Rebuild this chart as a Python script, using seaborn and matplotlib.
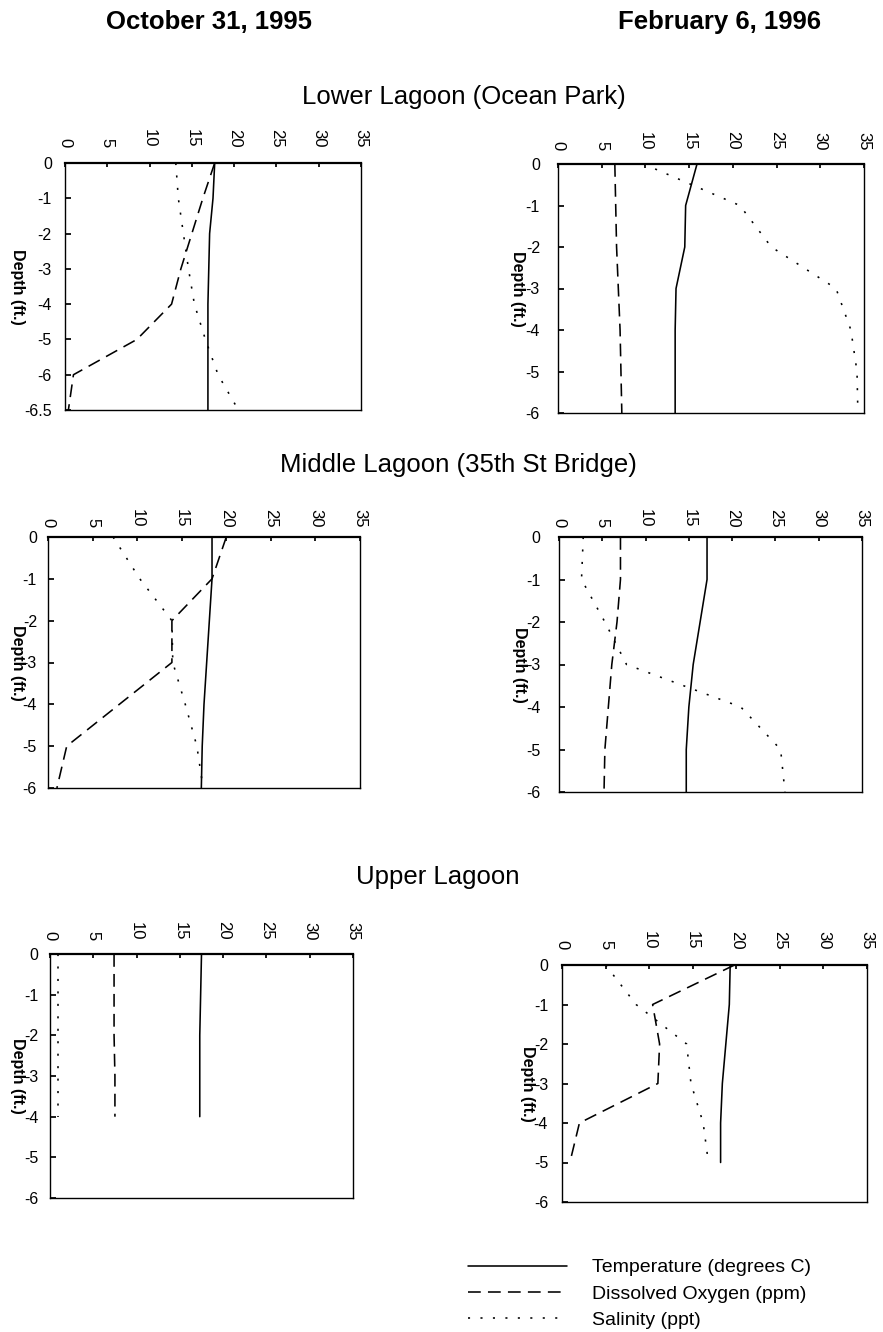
import numpy as np
import pandas as pd
import seaborn as sns
import matplotlib.pyplot as plt

# depth profiles, Oct 31 1995 vs Feb 6 1996, three lagoon stations
series = ["Temperature (degrees C)", "Dissolved Oxygen (ppm)", "Salinity (ppt)"]
xticks = [0, 5, 10, 15, 20, 25, 30, 35]

# Lower Lagoon (Ocean Park)
lower_oct_depth = ["0", "-1", "-2", "-3", "-4", "-5", "-6", "-6.5"]
lower_oct_temp = [17.7, 17.5, 17.1, 17.0, 16.9, 16.9, 16.9, 16.9]
lower_oct_do = [17.7, 16.3, 15.0, 13.7, 12.6, 8.5, 1.0, 0.4]
lower_oct_sal = [13.1, 13.4, 14.0, 14.6, 15.3, 16.6, 18.1, 20.5]

lower_feb_depth = ["0", "-1", "-2", "-3", "-4", "-5", "-6"]
lower_feb_temp = [15.9, 14.6, 14.5, 13.5, 13.4, 13.4, 13.4]
lower_feb_do = [6.5, 6.6, 6.7, 6.9, 7.1, 7.2, 7.3]
lower_feb_sal = [9.8, 20.8, 24.4, 31.8, 33.5, 34.2, 34.3]

# Middle Lagoon (35th St Bridge)
middle_oct_depth = ["0", "-1", "-2", "-3", "-4", "-5", "-6"]
middle_oct_temp = [18.4, 18.4, 18.1, 17.8, 17.5, 17.3, 17.2]
middle_oct_do = [20.0, 18.4, 13.9, 13.9, 8.0, 2.1, 1.0]
middle_oct_sal = [7.3, 10.3, 13.9, 14.0, 15.4, 16.7, 17.4]

middle_feb_depth = ["0", "-1", "-2", "-3", "-4", "-5", "-6"]
middle_feb_temp = [17.1, 17.1, 16.3, 15.5, 15.0, 14.7, 14.7]
middle_feb_do = [7.1, 7.1, 6.7, 6.1, 5.7, 5.3, 5.2]
middle_feb_sal = [2.8, 2.6, 5.3, 7.8, 21.0, 25.6, 26.1]

# Upper Lagoon (no readings below -4 / -5 ft)
upper_oct_depth = ["0", "-1", "-2", "-3", "-4", "-5", "-6"]
upper_oct_temp = [17.5, 17.4, 17.3, 17.3, 17.3]
upper_oct_do = [7.4, 7.4, 7.4, 7.5, 7.5]
upper_oct_sal = [0.9, 0.9, 0.9, 0.9, 0.9]

upper_feb_depth = ["0", "-1", "-2", "-3", "-4", "-5", "-6"]
upper_feb_temp = [19.3, 19.2, 18.8, 18.4, 18.2, 18.2]
upper_feb_do = [19.8, 10.4, 11.2, 11.0, 2.0, 0.9]
upper_feb_sal = [5.0, 8.5, 14.3, 14.8, 16.2, 16.8]

sns.set_theme(style="white")
plt.rcParams['font.family'] = ['Liberation Sans', 'DejaVu Sans']
for key in ["text.color", "axes.labelcolor", "xtick.color", "ytick.color"]:
    plt.rcParams[key] = "black"

W, H = 883, 1332
fig = plt.figure(figsize=(W / 100, H / 100), dpi=100)

dashes = {series[0]: "", series[1]: (8, 4.5), series[2]: (1.3, 6.5)}

# (panel data, pixel box l/t/r/b, ylabel x in px, ytick pad, xtick pad)
panels = [
    (lower_oct_depth, lower_oct_temp, lower_oct_do, lower_oct_sal, (65, 163, 361, 410), 17, 9.5, 11),
    (lower_feb_depth, lower_feb_temp, lower_feb_do, lower_feb_sal, (558, 164, 864, 413), 518, 13, 10),
    (middle_oct_depth, middle_oct_temp, middle_oct_do, middle_oct_sal, (48, 537, 360, 788), 17, 8, 7),
    (middle_feb_depth, middle_feb_temp, middle_feb_do, middle_feb_sal, (559, 537, 862, 792), 520, 13.5, 7),
    (upper_oct_depth, upper_oct_temp, upper_oct_do, upper_oct_sal, (50, 954, 353, 1198), 18, 8.5, 10),
    (upper_feb_depth, upper_feb_temp, upper_feb_do, upper_feb_sal, (562, 965, 867, 1202), 527, 10, 11),
]

handles, labels = None, None
for depth, temp, do, sal, box, ylab_x, ypad, xpad in panels:
    l, t, r, b = box
    ax = fig.add_axes([l / W, 1 - b / H, (r - l) / W, (b - t) / H])
    rows = []
    for name, vals in zip(series, [temp, do, sal]):
        for i, v in enumerate(vals):
            rows.append({"row": i, "value": v, "series": name})
    df = pd.DataFrame(rows)
    sns.lineplot(data=df, x="value", y="row", style="series", style_order=series,
                 dashes=dashes, color="black", linewidth=1.15, estimator=None,
                 orient="y", ax=ax, legend=(handles is None))
    if handles is None:
        handles, labels = ax.get_legend_handles_labels()
        ax.get_legend().remove()

    ax.set_xlim(0, 35)
    ax.set_ylim(len(depth) - 1, 0)
    ax.set_xticks(xticks)
    ax.xaxis.tick_top()
    ax.set_xlabel("")
    ax.tick_params(axis="x", top=True, bottom=False, direction="in", length=3,
                   labelsize=12, rotation=-90, pad=xpad, color="black")
    ax.set_yticks(np.arange(len(depth)))
    ax.set_yticklabels(depth)
    ax.tick_params(axis="y", left=True, direction="in", length=4, labelsize=11.5,
                   pad=ypad, color="black")
    ax.set_ylabel("Depth (ft.)", rotation=-90, fontsize=11.5, fontweight="bold",
                  va="center", ha="center")
    ax.yaxis.set_label_coords((ylab_x - l) / (r - l), 0.5)
    for side, sp in ax.spines.items():
        sp.set_color("black")
        sp.set_linewidth(1.6 if side == "top" else 1.0)

fig.text(209 / W, 1 - 22 / H, "October 31, 1995", fontsize=18.5, fontweight="bold",
         ha="center", va="center")
fig.text(719 / W, 1 - 22 / H, "February 6, 1996", fontsize=18.5, fontweight="bold",
         ha="center", va="center")
fig.text(464 / W, 1 - 97 / H, "Lower Lagoon (Ocean Park)", fontsize=18.5,
         ha="center", va="center")
fig.text(458 / W, 1 - 465 / H, "Middle Lagoon (35th St Bridge)", fontsize=18.5,
         ha="center", va="center")
fig.text(438 / W, 1 - 877 / H, "Upper Lagoon", fontsize=18.5, ha="center", va="center")

fig.legend(handles, labels, loc="center left", bbox_to_anchor=(468 / W, 1 - 1294 / H),
           frameon=False, fontsize=14, handlelength=5.1, handletextpad=1.3,
           labelspacing=0.45, borderpad=0, borderaxespad=0)

fig.savefig("out.png", dpi=100, facecolor="white")
